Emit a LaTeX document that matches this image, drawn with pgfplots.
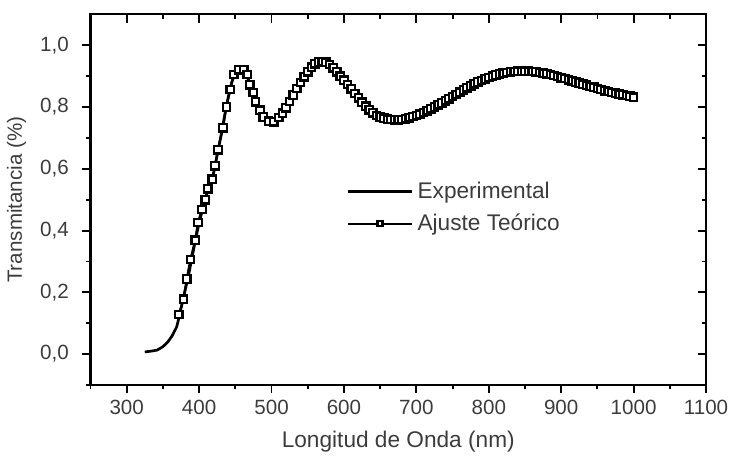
\documentclass[border=0pt]{standalone}
\usepackage{pgfplots}
\pgfplotsset{compat=1.18}
\usepackage{fontspec}
\setmainfont{Liberation Sans}
\definecolor{txt}{RGB}{60,60,60}

\pgfplotstableread{
x y
325 0.007
335 0.010
342 0.013
350 0.024
357 0.040
363 0.060
369 0.088
373 0.126
378 0.180
385 0.250
390 0.310
395 0.370
400 0.425
405 0.470
410 0.515
415 0.550
420 0.585
425 0.645
430 0.705
435 0.770
440 0.830
445 0.880
450 0.910
455 0.922
460 0.922
465 0.908
470 0.875
475 0.842
480 0.810
485 0.785
490 0.766
495 0.756
500 0.752
510 0.766
520 0.798
530 0.839
540 0.880
550 0.914
560 0.940
570 0.948
580 0.938
590 0.914
600 0.887
610 0.859
620 0.830
630 0.803
640 0.781
650 0.768
660 0.761
670 0.759
680 0.760
690 0.765
700 0.773
720 0.794
740 0.820
760 0.848
780 0.875
800 0.896
820 0.910
840 0.916
860 0.915
880 0.908
900 0.895
920 0.881
940 0.867
960 0.853
980 0.842
1000 0.832
}\experimental

\pgfplotstableread{
x y
372 0.128
378.5 0.178
383 0.243
388 0.306
394.7 0.369
398.4 0.426
404 0.468
408.5 0.500
412 0.535
418 0.566
422 0.610
426 0.662
433 0.733
437.6 0.800
443 0.857
447.8 0.905
454.8 0.921
461.7 0.921
466.3 0.905
470 0.872
474.6 0.847
477.8 0.817
484 0.790
488.5 0.768
496 0.754
503 0.752
510 0.766
515 0.780
520 0.798
525 0.818
530 0.839
535 0.860
540 0.880
545 0.898
550 0.914
555 0.929
560 0.940
565 0.946
570 0.948
575 0.945
580 0.938
585 0.927
590 0.914
595 0.900
600 0.887
605 0.873
610 0.859
615 0.844
620 0.830
625 0.816
630 0.803
635 0.791
640 0.781
645 0.773
650 0.768
655 0.764
660 0.761
665 0.760
670 0.759
675 0.759
680 0.760
685 0.762
690 0.765
695 0.769
700 0.773
705 0.777
710 0.782
715 0.788
720 0.794
725 0.800
730 0.807
735 0.813
740 0.820
745 0.827
750 0.834
755 0.841
760 0.848
765 0.855
770 0.862
775 0.868
780 0.875
785 0.881
790 0.886
795 0.891
800 0.896
805 0.900
810 0.904
815 0.907
820 0.910
825 0.912
830 0.914
835 0.915
840 0.916
845 0.916
850 0.916
855 0.916
860 0.915
865 0.914
870 0.912
875 0.910
880 0.908
885 0.905
890 0.902
895 0.899
900 0.895
905 0.892
910 0.888
915 0.885
920 0.881
925 0.878
930 0.874
935 0.871
940 0.867
945 0.864
950 0.860
955 0.857
960 0.853
965 0.850
970 0.847
975 0.845
980 0.842
985 0.840
990 0.837
995 0.835
1000 0.832
}\teorico

\begin{document}
\begin{tikzpicture}
\pgfplotsset{
  common/.style={
    scale only axis,
    width=299pt, height=180pt,
    xmin=250, xmax=1100,
    ymin=-0.1, ymax=1.1,
    xtick={300,400,...,1100},
    minor xtick={250,350,...,1050},
    ytick={0,0.2,...,1.0},
    minor ytick={-0.1,0.1,...,0.9},
    major tick length=4pt,
    minor tick length=2pt,
    every tick/.style={black, line width=0.9pt},
    every minor tick/.style={black, line width=0.9pt},
    axis line style={black, line width=1pt},
  }
}
% top and right ticks, pointing in
\begin{axis}[common,
  xtick pos=right, ytick pos=right,
  tick align=inside,
  xticklabels={}, yticklabels={},
]
\end{axis}
\begin{axis}[common,
  xtick pos=left, ytick pos=left,
  tick align=outside,
  font=\fontsize{10}{12}\selectfont,
  tick label style={text=txt},
  /pgf/number format/assume math mode=true,
  x tick label style={/pgf/number format/1000 sep={}},
  y tick label style={xshift=-3pt, /pgf/number format/.cd, fixed, fixed zerofill, precision=1, use comma},
  xlabel={Longitud de Onda (nm)},
  ylabel={Transmitancia (\%)},
  label style={text=txt},
  xlabel style={yshift=-1pt, font=\fontsize{11}{13}\selectfont},
  ylabel style={yshift=0pt},
  legend style={at={(0.415,0.56)}, anchor=north west, draw=none, fill=none,
    inner sep=0pt, font=\fontsize{11}{13}\selectfont, text=txt,
    row sep=2pt, nodes={inner xsep=2pt}},
  legend cell align=left,
  legend image code/.code={
    \draw[mark repeat=2, mark phase=2, #1, mark size=1.2pt]
      plot coordinates {(0cm,0cm) (0.55cm,0cm) (1.1cm,0cm)};
  },
]
\addplot[black, line width=1.3pt] table[x=x, y=y] {\experimental};
\addlegendentry{Experimental}
\addplot[black, line width=1.1pt, mark=square*, mark size=1.8pt,
  mark options={fill=white, line width=1.1pt}] table[x=x, y=y] {\teorico};
\addlegendentry{Ajuste Teórico}
\end{axis}
\path (current axis.north east) ++(16pt,7pt);
\path (current axis.south west) ++(0,-33pt);
\end{tikzpicture}
\end{document}
